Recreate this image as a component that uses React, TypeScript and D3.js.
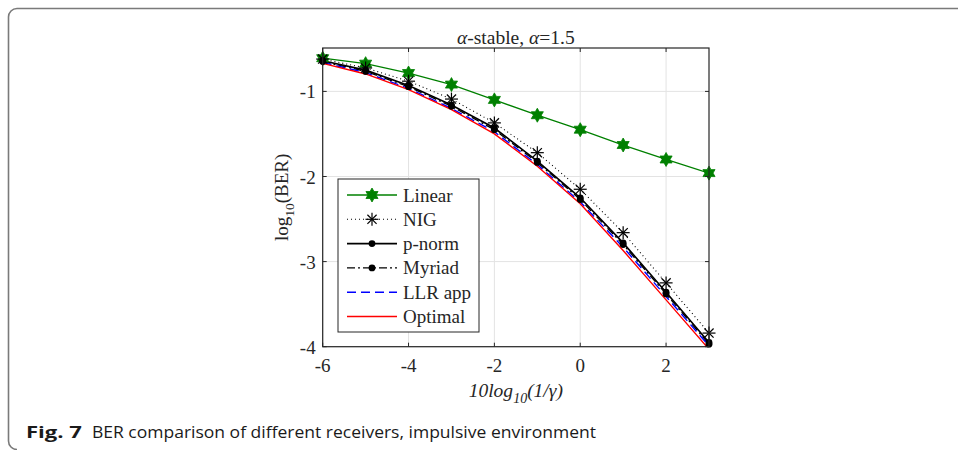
import React from 'react'
import * as d3 from 'd3'

// snr axis, 10log10(1/gamma)
const snr = [-6, -5, -4, -3, -2, -1, 0, 1, 2, 3]

// log10(BER) per receiver
const linear = [-0.61, -0.674, -0.784, -0.92, -1.1, -1.28, -1.45, -1.63, -1.8, -1.96]
const nig = [-0.62, -0.725, -0.88, -1.09, -1.37, -1.72, -2.15, -2.66, -3.25, -3.84]
const pnorm = [-0.64, -0.75, -0.93, -1.16, -1.43, -1.82, -2.25, -2.78, -3.36, -3.95]
const myriad = [-0.65, -0.765, -0.945, -1.175, -1.45, -1.835, -2.27, -2.8, -3.38, -3.97]
const llrApp = [-0.66, -0.78, -0.965, -1.2, -1.475, -1.86, -2.3, -2.83, -3.41, -3.99]
const optimal = [-0.67, -0.795, -0.98, -1.215, -1.5, -1.88, -2.32, -2.87, -3.45, -4.03]

const xTicks = [-6, -4, -2, 0, 2]
const yTicks = [-1, -2, -3, -4]

const series = [
  {name: 'Linear', values: linear, color: '#008000', dash: null, marker: 'hexagram', width: 1.3},
  {name: 'NIG', values: nig, color: '#000', dash: '1,3', marker: 'asterisk', width: 1.1},
  {name: 'p-norm', values: pnorm, color: '#000', dash: null, marker: 'dot', width: 1.6},
  {name: 'Myriad', values: myriad, color: '#000', dash: '8,3,2,3', marker: 'dot', width: 1.3},
  {name: 'LLR app', values: llrApp, color: '#0000ff', dash: '9,5', marker: null, width: 1.4},
  {name: 'Optimal', values: optimal, color: '#ff0000', dash: null, marker: null, width: 1.4},
]

const serif = '"Liberation Serif", "DejaVu Serif", serif'

function Marker({type, x, y, color}: {type: string | null, x: number, y: number, color: string}) {
  if (type === 'hexagram') {
    const pts: string[] = []
    for (let i = 0; i < 12; i++) {
      const r = i % 2 === 0 ? 7 : 4
      const a = (Math.PI / 6) * i - Math.PI / 2
      pts.push(`${x + r * Math.cos(a)},${y + r * Math.sin(a)}`)
    }
    return <polygon points={pts.join(' ')} fill={color} stroke={color} strokeWidth={0.8}/>
  }
  if (type === 'asterisk') {
    const r = 6.5
    return (
      <g stroke={color} strokeWidth={1.2}>
        {[0, 45, 90, 135].map(deg => {
          const a = deg * Math.PI / 180
          return <line key={deg} x1={x - r * Math.cos(a)} y1={y - r * Math.sin(a)}
                       x2={x + r * Math.cos(a)} y2={y + r * Math.sin(a)}/>
        })}
      </g>
    )
  }
  if (type === 'dot') return <circle cx={x} cy={y} r={3.4} fill={color}/>
  return null
}

export default function App() {
  const left = 322.7, right = 709, top = 48, bottom = 346.7

  const xScale = d3.scaleLinear().domain([-6, 3]).range([left, right])
  const yScale = d3.scaleLinear().domain([-4, -0.49]).range([bottom, top])

  const line = d3.line<number>()
    .x((d, i) => xScale(snr[i]))
    .y(d => yScale(d))

  const legX = 338, legY = 179, legW = 141, legH = 153, rowH = 24.3

  return (
    <svg width={958} height={450} style={{position: 'absolute', left: 0, top: 0}}>
      <rect x={0} y={0} width={958} height={450} fill="#fff"/>
      {/* card frame */}
      <path d="M958,8.5 H17 A8.5,8.5 0 0 0 8.5,17 V441 A8.5,8.5 0 0 0 17,449.5" fill="none" stroke="#7a7a7a" strokeWidth={1.6}/>

      <defs>
        <clipPath id="plotClip">
          <rect x={left} y={top} width={right - left} height={bottom - top}/>
        </clipPath>
      </defs>

      {/* grid */}
      {xTicks.map(t => (
        <line key={'gx' + t} x1={xScale(t)} x2={xScale(t)} y1={top} y2={bottom} stroke="#e3e3e3" strokeWidth={1}/>
      ))}
      {yTicks.map(t => (
        <line key={'gy' + t} x1={left} x2={right} y1={yScale(t)} y2={yScale(t)} stroke="#e3e3e3" strokeWidth={1}/>
      ))}

      {/* series */}
      <g clipPath="url(#plotClip)">
        {series.map(s => (
          <path key={s.name} d={line(s.values) || ''} fill="none" stroke={s.color}
                strokeWidth={s.width} strokeDasharray={s.dash || undefined}/>
        ))}
      </g>
      {series.map(s => (
        <g key={'m' + s.name}>
          {s.values.map((v, i) => (
            <Marker key={i} type={s.marker} x={xScale(snr[i])} y={yScale(v)} color={s.color}/>
          ))}
        </g>
      ))}

      {/* axes box */}
      <rect x={left} y={top} width={right - left} height={bottom - top} fill="none" stroke="#262626" strokeWidth={1.2}/>
      {xTicks.map(t => (
        <g key={'tx' + t}>
          <line x1={xScale(t)} x2={xScale(t)} y1={bottom} y2={bottom - 4} stroke="#262626"/>
          <line x1={xScale(t)} x2={xScale(t)} y1={top} y2={top + 4} stroke="#262626"/>
          <text x={xScale(t)} y={bottom + 25} textAnchor="middle" fontFamily={serif} fontSize={19} fill="#262626">{t}</text>
        </g>
      ))}
      {yTicks.map(t => (
        <g key={'ty' + t}>
          <line x1={left} x2={left + 4} y1={yScale(t)} y2={yScale(t)} stroke="#262626"/>
          <line x1={right} x2={right - 4} y1={yScale(t)} y2={yScale(t)} stroke="#262626"/>
          <text x={left - 7} y={yScale(t) + 7} textAnchor="end" fontFamily={serif} fontSize={19} fill="#262626">{t}</text>
        </g>
      ))}

      {/* title */}
      <text x={(left + right) / 2} y={44} textAnchor="middle" fontFamily={serif} fontSize={19.5} fill="#262626">
        <tspan fontStyle="italic">α</tspan>-stable, <tspan fontStyle="italic">α</tspan>=1.5
      </text>

      {/* y label */}
      <text transform={`translate(288,${(top + bottom) / 2}) rotate(-90)`} textAnchor="middle"
            fontFamily={serif} fontSize={19} fill="#262626">
        log<tspan fontSize={13.5} dy={6}>10</tspan><tspan dy={-6}>(BER)</tspan>
      </text>

      {/* x label */}
      <text x={(left + right) / 2} y={397} textAnchor="middle" fontFamily={serif} fontSize={19.5}
            fontStyle="italic" fill="#262626">
        10log<tspan fontSize={14} dy={6}>10</tspan><tspan dy={-6}>(1/γ)</tspan>
      </text>

      {/* legend */}
      <rect x={legX} y={legY} width={legW} height={legH} fill="#fff" stroke="#262626" strokeWidth={1}/>
      {series.map((s, i) => {
        const cy = legY + 16 + i * rowH
        return (
          <g key={'l' + s.name}>
            <line x1={legX + 9} x2={legX + 59} y1={cy} y2={cy} stroke={s.color}
                  strokeWidth={s.width} strokeDasharray={s.dash || undefined}/>
            <Marker type={s.marker} x={legX + 34} y={cy} color={s.color}/>
            <text x={legX + 65} y={cy + 6.5} fontFamily={serif} fontSize={19} fill="#262626">{s.name}</text>
          </g>
        )
      })}

      {/* caption */}
      <text x={26} y={438} fontFamily='"Open Sans", "Noto Sans", sans-serif' fontSize={16} fill="#1a1a1a">
        <tspan fontWeight="bold" textLength={56} lengthAdjust="spacingAndGlyphs">Fig. 7</tspan>
      </text>
      <text x={92} y={438} fontFamily='"Open Sans", "Noto Sans", sans-serif' fontSize={16} fill="#1a1a1a"
            textLength={504} lengthAdjust="spacingAndGlyphs">
        BER comparison of different receivers, impulsive environment
      </text>
    </svg>
  )
}
